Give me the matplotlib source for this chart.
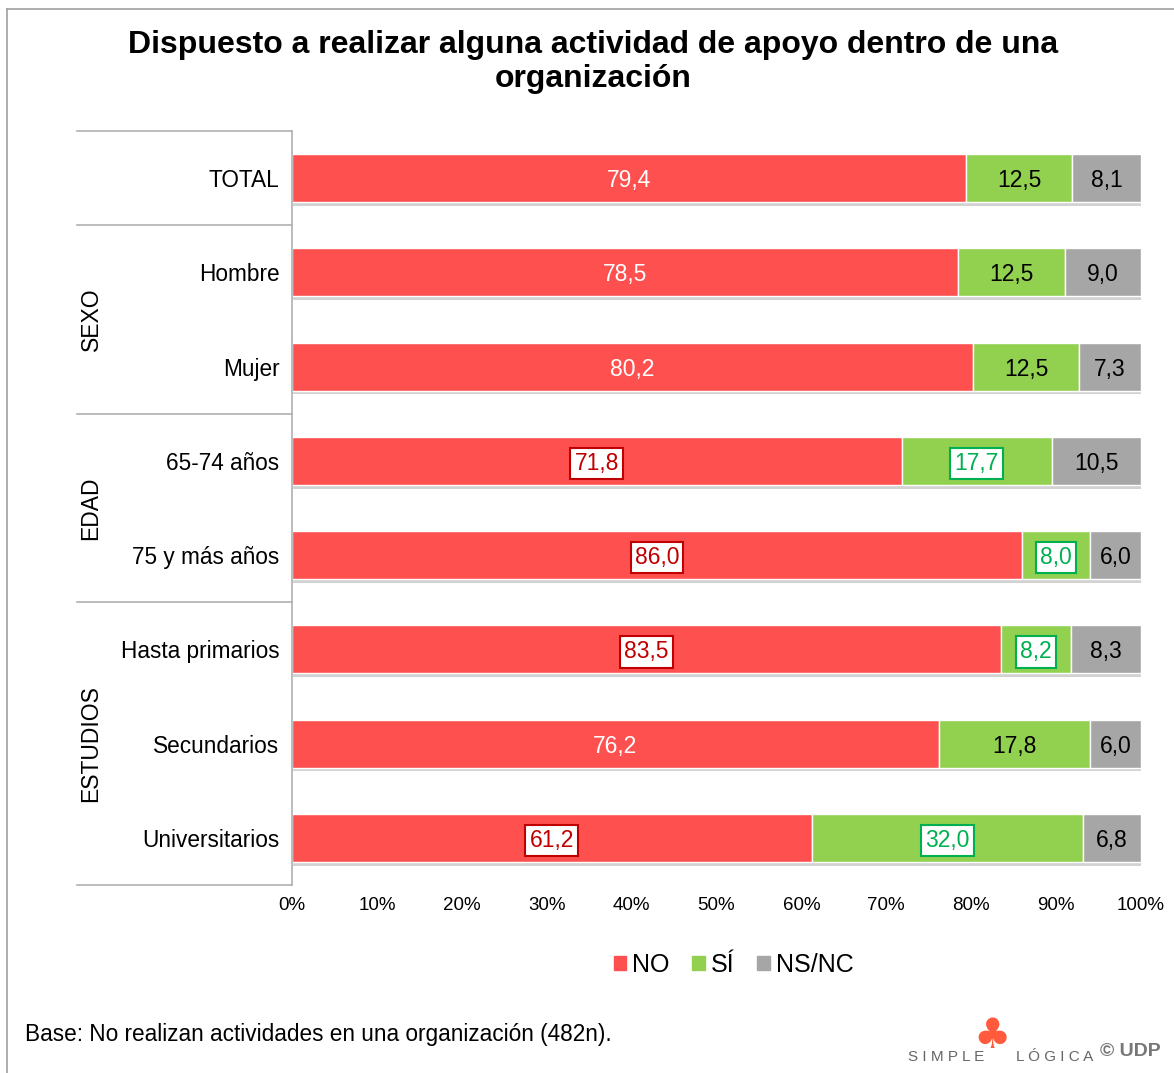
import numpy as np
import matplotlib.pyplot as plt
from matplotlib.patches import Rectangle
from matplotlib.lines import Line2D

plt.rcParams['font.family'] = ['Liberation Sans', 'DejaVu Sans']

categories = ['TOTAL', 'Hombre', 'Mujer', '65-74 años', '75 y más años',
              'Hasta primarios', 'Secundarios', 'Universitarios']
no_vals = [79.4, 78.5, 80.2, 71.8, 86.0, 83.5, 76.2, 61.2]
si_vals = [12.5, 12.5, 12.5, 17.7, 8.0, 8.2, 17.8, 32.0]
ns_vals = [8.1, 9.0, 7.3, 10.5, 6.0, 8.3, 6.0, 6.8]
no_boxed = [False, False, False, True, True, True, False, True]
si_boxed = [False, False, False, True, True, True, False, True]
groups = [('SEXO', 1, 2), ('EDAD', 3, 4), ('ESTUDIOS', 5, 7)]
group_breaks = [0, 1, 3, 5, 8]
xticks = np.arange(0, 101, 10)

red = '#FF5050'
green = '#92D050'
gray = '#A6A6A6'

fig = plt.figure(figsize=(11.74, 10.73), dpi=100)
ax = fig.add_axes([292/1174, 1-885/1073, (1141-292)/1174, (885-131)/1073])

n = len(categories)
y = np.arange(n)
h = 0.51

no = np.array(no_vals)
si = np.array(si_vals)
ns = np.array(ns_vals)

# soft shadow under each bar
for yi, tot in zip(y, no + si + ns):
    ax.add_patch(Rectangle((0.15, yi - h/2), tot, h + 0.04,
                           color='#d2d2d2', zorder=1, lw=0))

ax.barh(y, no, h, color=red, edgecolor='white', lw=1, zorder=2)
ax.barh(y, si, h, left=no, color=green, edgecolor='white', lw=1, zorder=2)
ax.barh(y, ns, h, left=no + si, color=gray, edgecolor='white', lw=1, zorder=2)

def fmt(v):
    return f'{v:.1f}'.replace('.', ',')

fs = 16.5
va = 'center_baseline'
for i in range(n):
    cx = no[i] / 2
    if no_boxed[i]:
        ax.text(cx, y[i], fmt(no[i]), ha='center', va=va, fontsize=fs,
                color='#C00000', zorder=4,
                bbox=dict(boxstyle='square,pad=0.18', fc='white', ec='#C00000', lw=1.5))
    else:
        ax.text(cx, y[i], fmt(no[i]), ha='center', va=va, fontsize=fs,
                color='white', zorder=4)
    cx = no[i] + si[i] / 2
    if si_boxed[i]:
        ax.text(cx, y[i], fmt(si[i]), ha='center', va=va, fontsize=fs,
                color='#00B050', zorder=4,
                bbox=dict(boxstyle='square,pad=0.18', fc='white', ec='#00B050', lw=1.5))
    else:
        ax.text(cx, y[i], fmt(si[i]), ha='center', va=va, fontsize=fs,
                color='black', zorder=4)
    cx = no[i] + si[i] + ns[i] / 2
    ax.text(cx, y[i], fmt(ns[i]), ha='center', va=va, fontsize=fs,
            color='black', zorder=4)

ax.set_xlim(0, 100)
ax.set_ylim(n - 0.5, -0.5)
ax.set_xticks(xticks)
ax.set_xticklabels([f'{t}%' for t in xticks], fontsize=13.5)
ax.set_yticks(y)
ax.set_yticklabels(categories, fontsize=16.3)
ax.tick_params(axis='y', length=0, pad=9)
ax.tick_params(axis='x', length=0, pad=9)
for s in ['top', 'right', 'bottom']:
    ax.spines[s].set_visible(False)
ax.spines['left'].set_color('#b0b0b0')
ax.spines['left'].set_linewidth(1.2)

# group separator lines and group labels
x0 = 77/1174
x1 = 292/1174
for b in group_breaks:
    yy = ax.transData.transform((0, b - 0.5))[1]
    yf = fig.transFigure.inverted().transform((0, yy))[1]
    fig.add_artist(Line2D([x0, x1], [yf, yf], color='#b0b0b0', lw=1.2))
for name, a, b in groups:
    yy = ax.transData.transform((0, (a + b) / 2))[1]
    yf = fig.transFigure.inverted().transform((0, yy))[1]
    fig.text(91/1174, yf, name, rotation=90, ha='center', va='center', fontsize=16.5)

fig.text(0.505, 1-62/1073, 'Dispuesto a realizar alguna actividad de apoyo dentro de una\norganización',
         ha='center', va='center', fontsize=23, fontweight='bold', linespacing=1.2)

# legend
handles = [Rectangle((0, 0), 1, 1, color=c) for c in (red, green, gray)]
fig.legend(handles, ['NO', 'SÍ', 'NS/NC'], loc='center', bbox_to_anchor=(0.625, 1-965/1073),
           ncol=3, frameon=False, fontsize=18, handlelength=0.5, handleheight=0.5,
           handletextpad=0.25, columnspacing=0.9)

fig.text(25/1174, 1-1035/1073, 'Base: No realizan actividades en una organización (482n).',
         ha='left', va='center', fontsize=16.3)

fig.text(908/1174, 1-1057/1073, 'S I M P L E', ha='left', va='center', fontsize=11, color='#666666')
fig.text(1016/1174, 1-1057/1073, 'L Ó G I C A', ha='left', va='center', fontsize=11, color='#666666')
fig.text(992/1174, 1-1036/1073, '♣', ha='center', va='center', fontsize=30,
         color='#FF5A3C', family=['DejaVu Sans'])
fig.text(1100/1174, 1-1052/1073, '© UDP', ha='left', va='center', fontsize=14,
         fontweight='bold', color='#777777')

# outer frame
fig.add_artist(Line2D([7/1174, 7/1174], [0, 1-9/1073], color='#a0a0a0', lw=1.2))
fig.add_artist(Line2D([7/1174, 1], [1-9/1073, 1-9/1073], color='#a0a0a0', lw=1.2))

fig.savefig('out.png', dpi=100, facecolor='white')
